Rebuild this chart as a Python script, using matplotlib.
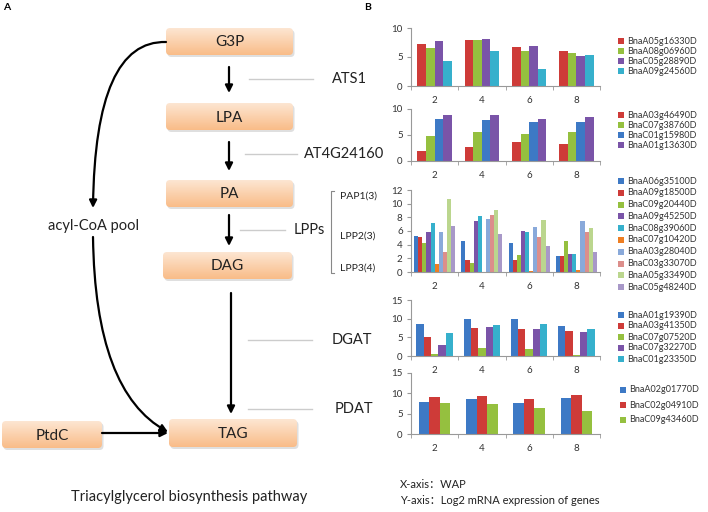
import numpy as np
import matplotlib
matplotlib.use('Agg')
import matplotlib.pyplot as plt
from matplotlib.patches import FancyBboxPatch, FancyArrowPatch, Rectangle
from matplotlib.path import Path
from matplotlib.colors import LinearSegmentedColormap

plt.rcParams['font.family'] = ['Lato', 'Noto Sans CJK SC', 'DejaVu Sans']

# ---- data ----
weeks = ['2', '4', '6', '8']

ats1_genes = ['BnaA05g16330D', 'BnaA08g06960D', 'BnaC05g28890D', 'BnaA09g24560D']
ats1_vals = [[7.2, 7.9, 6.7, 5.95],
             [6.6, 7.9, 6.05, 5.7],
             [7.8, 8.05, 6.85, 5.2],
             [4.3, 6.05, 2.9, 5.4]]

at4g_genes = ['BnaA03g46490D', 'BnaC07g38760D', 'BnaC01g15980D', 'BnaA01g13630D']
at4g_vals = [[1.95, 2.65, 3.6, 3.35],
             [4.9, 5.55, 5.2, 5.6],
             [8.0, 7.9, 7.5, 7.5],
             [8.9, 8.85, 8.0, 8.4]]

lpp_genes = ['BnaA06g35100D', 'BnaA09g18500D', 'BnaC09g20440D', 'BnaA09g45250D',
             'BnaC08g39060D', 'BnaC07g10420D', 'BnaA03g28040D', 'BnaC03g33070D',
             'BnaA05g33490D', 'BnaC05g48240D']
lpp_vals = [[5.3, 4.5, 4.25, 2.3],
            [5.05, 1.7, 1.8, 2.3],
            [4.2, 1.35, 2.5, 4.6],
            [5.9, 7.45, 6.0, 2.6],
            [7.15, 8.2, 5.9, 2.6],
            [1.2, 0.0, 0.2, 0.3],
            [5.8, 7.75, 6.6, 7.4],
            [2.9, 8.4, 5.1, 5.8],
            [10.7, 9.05, 7.6, 6.5],
            [6.7, 5.5, 3.8, 2.9]]

dgat_genes = ['BnaA01g19390D', 'BnaA03g41350D', 'BnaC07g07520D', 'BnaC07g32270D', 'BnaC01g23350D']
dgat_vals = [[8.6, 9.8, 9.8, 8.0],
             [5.0, 7.4, 7.1, 6.8],
             [0.5, 2.1, 1.8, 0.3],
             [3.0, 7.8, 7.1, 6.3],
             [6.1, 8.2, 8.6, 7.2]]

pdat_genes = ['BnaA02g01770D', 'BnaC02g04910D', 'BnaC09g43460D']
pdat_vals = [[7.8, 8.6, 7.7, 8.8],
             [9.0, 9.3, 8.7, 9.6],
             [7.6, 7.5, 6.5, 5.6]]

blue, red, green, purple, cyan = '#3D79C5', '#CE3B38', '#95C03F', '#7A54A8', '#36B0CC'
orange, lblue, pink, lgreen, lpurple = '#EE7E22', '#89A9DA', '#DC8E8B', '#BBD68E', '#A898C8'

W, H = 708, 512
fig = plt.figure(figsize=(W / 100, H / 100), dpi=100)

# full-figure overlay in pixel coordinates (y downwards)
ov = fig.add_axes([0, 0, 1, 1], zorder=5)
ov.axis('off')


def px_rect(x0, y0, x1, y1):
    return [x0 / W, 1 - y1 / H, (x1 - x0) / W, (y1 - y0) / H]


def bar_panel(y_top, y_bot, genes, vals, colors, ymax, step, leg_x, leg_y0, leg_dy):
    ax = fig.add_axes(px_rect(411, y_top, 600, y_bot))
    n = len(genes)
    w = 1 / (n + 1.5)
    x = np.arange(len(weeks))
    for i in range(n):
        ax.bar(x - n * w / 2 + (i + 0.5) * w, vals[i], w, color=colors[i], label=genes[i])
    ax.set_xlim(-0.5, len(weeks) - 0.5)
    ax.set_ylim(0, ymax)
    ax.set_yticks(np.arange(0, ymax + 0.01, step))
    ax.set_xticks(x)
    ax.set_xticklabels(weeks)
    ax.set_xticks(np.arange(-0.5, len(weeks), 1), minor=True)
    ax.tick_params(axis='x', which='major', length=0, pad=7, labelsize=7, labelcolor='#333333')
    ax.tick_params(axis='x', which='minor', length=3, color='#999999')
    ax.tick_params(axis='y', length=3, color='#999999', labelsize=7, pad=3, labelcolor='#333333')
    for s in ['top', 'right']:
        ax.spines[s].set_visible(False)
    for s in ['left', 'bottom']:
        ax.spines[s].set_color('#999999')
        ax.spines[s].set_linewidth(0.8)
    ax.patch.set_alpha(0)
    # legend
    for i in range(n):
        y = leg_y0 + i * leg_dy
        ov.add_patch(Rectangle((leg_x, y - 3), 6, 6, color=colors[i], lw=0))
        ov.text(leg_x + 9, y, genes[i], fontsize=6.5, va='center', ha='left', color='#333333')
    return ax


bar_panel(28, 86, ats1_genes, ats1_vals, [red, green, purple, cyan], 10, 5, 618, 41, 10)
bar_panel(109, 161, at4g_genes, at4g_vals, [red, green, blue, purple], 10, 5, 618, 115, 10)
bar_panel(190, 272, lpp_genes, lpp_vals,
          [blue, red, green, purple, cyan, orange, lblue, pink, lgreen, lpurple], 12, 2, 618, 181, 11.8)
bar_panel(300, 356, dgat_genes, dgat_vals, [blue, red, green, purple, cyan], 15, 5, 618, 315, 11)
bar_panel(373, 434, pdat_genes, pdat_vals, [blue, red, green], 15, 5, 620, 390, 15)

# ---- pathway diagram ----
grad_cmap = LinearSegmentedColormap.from_list('peach', ['#FDE6D2', '#F9BC88'])
grad = np.linspace(0, 1, 64).reshape(-1, 1)


def box(x0, y0, x1, y1, label):
    sh = FancyBboxPatch((x0 + 1.5, y0 + 2), x1 - x0, y1 - y0,
                        boxstyle='round,pad=0,rounding_size=4', fc='#b8b8b8', ec='none',
                        alpha=0.45, zorder=1)
    ov.add_patch(sh)
    p = FancyBboxPatch((x0, y0), x1 - x0, y1 - y0,
                       boxstyle='round,pad=0,rounding_size=4', fc='none', ec='none', zorder=2)
    ov.add_patch(p)
    im = ov.imshow(grad, cmap=grad_cmap, extent=[x0, x1, y1, y0], aspect='auto',
                   origin='upper', interpolation='bilinear', zorder=2)
    im.set_clip_path(p)
    ov.text((x0 + x1) / 2, (y0 + y1) / 2 + 1, label, fontsize=11, ha='center', va='center',
            color='#222222', zorder=4)


box(166, 28, 293, 55, 'G3P')
box(166, 103, 293, 130, 'LPA')
box(166, 180, 293, 207, 'PA')
box(163, 252, 292, 279, 'DAG')
box(169, 419, 297, 447, 'TAG')
box(2, 421, 102, 448, 'PtdC')

arrow_kw = dict(arrowstyle='-|>', color='black', lw=1.6, mutation_scale=11, shrinkA=0, shrinkB=0, zorder=3)
for (xa, ya), (xb, yb) in [((229, 67), (229, 93)), ((229, 142), (229, 171)),
                           ((229, 215), (229, 246)), ((231, 293), (231, 414)),
                           ((102, 433), (168, 433))]:
    ov.add_patch(FancyArrowPatch((xa, ya), (xb, yb), **arrow_kw))

c1 = Path([(166, 42), (95, 40), (93, 208)], [Path.MOVETO, Path.CURVE3, Path.CURVE3])
ov.add_patch(FancyArrowPatch(path=c1, **arrow_kw))
c2 = Path([(93, 237), (95, 392), (168, 432)], [Path.MOVETO, Path.CURVE3, Path.CURVE3])
ov.add_patch(FancyArrowPatch(path=c2, **arrow_kw))

ov.text(93, 226, 'acyl-CoA pool', fontsize=10.5, ha='center', va='center', color='#222222')

# enzyme labels with grey leader lines
for (lx0, lx1, ly, tx, name) in [(249, 313, 79, 332, 'ATS1'),
                                 (245, 297, 154, 304, 'AT4G24160'),
                                 (240, 285, 230, 294, 'LPPs'),
                                 (248, 312, 340, 332, 'DGAT'),
                                 (248, 312, 409, 335, 'PDAT')]:
    ov.plot([lx0, lx1], [ly, ly], color='#cccccc', lw=1)
    ov.text(tx, ly, name, fontsize=10.5, ha='left', va='center', color='#222222')

ov.plot([334, 331, 331, 334], [191, 191, 273, 273], color='#888888', lw=0.8)
for ty, name in [(196, 'PAP1(3)'), (236, 'LPP2(3)'), (268, 'LPP3(4)')]:
    ov.text(340, ty, name, fontsize=7.5, ha='left', va='center', color='#222222')

ov.text(189, 497, 'Triacylglycerol biosynthesis pathway', fontsize=10.5, ha='center', va='center', color='#222222')
ov.text(400, 485, 'X-axis：WAP', fontsize=8, ha='left', va='center', color='#222222')
ov.text(400, 500, 'Y-axis：Log2 mRNA expression of genes', fontsize=8, ha='left', va='center', color='#222222')

ov.text(7, 8, 'A', fontsize=7.5, fontweight='bold', ha='center', va='center')
ov.text(368, 8, 'B', fontsize=7.5, fontweight='bold', ha='center', va='center')

ov.set_xlim(0, W)
ov.set_ylim(H, 0)

fig.savefig('out.png', dpi=100)
